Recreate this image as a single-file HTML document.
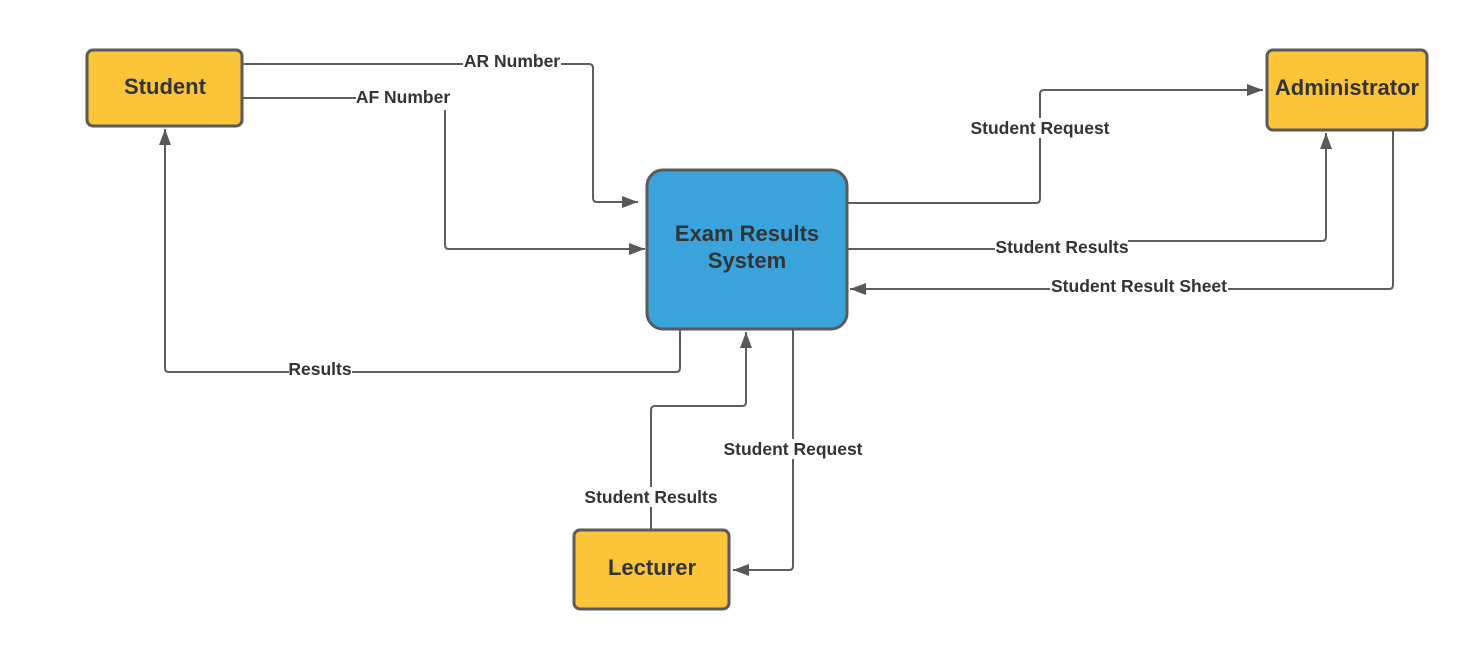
<!DOCTYPE html>
<html><head><style>
body{margin:0;background:#fff;}
svg text{font-family:"Liberation Sans",Arial,sans-serif;font-weight:bold;fill:#333;}
</style></head><body>
<svg width="1473" height="660" viewBox="0 0 1473 660" xmlns="http://www.w3.org/2000/svg">
<defs>
<marker id="b" viewBox="0 0 16 12" markerWidth="16" markerHeight="12" refX="16" refY="6" orient="auto" markerUnits="userSpaceOnUse"><path d="M0,0 L16,6 L0,12 z" fill="#595959"/></marker></defs>
<g fill="none" stroke="#5e5e5e" stroke-width="2" stroke-linejoin="round">
<path d="M242 64 H589 Q593 64 593 68 V198 Q593 202 597 202 H638" marker-end="url(#b)"/>
<path d="M242 98 H356"/>
<path d="M445 110 V245 Q445 249 449 249 H645" marker-end="url(#b)"/>
<path d="M680 330 V368 Q680 372 676 372 H169 Q165 372 165 368 V129" marker-end="url(#b)"/>
<path d="M848 203 H1036 Q1040 203 1040 199 V94 Q1040 90 1044 90 H1263" marker-end="url(#b)"/>
<path d="M848 249 H995"/>
<path d="M1128 241 H1322 Q1326 241 1326 237 V133" marker-end="url(#b)"/>
<path d="M1393 130 V285 Q1393 289 1389 289 H850" marker-end="url(#b)"/>
<path d="M651 530 V410 Q651 406 655 406 H742 Q746 406 746 402 V332" marker-end="url(#b)"/>
<path d="M793 330 V566 Q793 570 789 570 H733" marker-end="url(#b)"/>
</g>
<g stroke="#5a5a5a" stroke-width="3">
<rect x="87" y="50" width="155" height="76" rx="6" fill="#fcc438"/>
<rect x="1267" y="50" width="160" height="80" rx="6" fill="#fcc438"/>
<rect x="574" y="530" width="155" height="79" rx="6" fill="#fcc438"/>
<rect x="647" y="170" width="200" height="159" rx="16" fill="#3aa3dc"/>
</g>
<g text-anchor="middle" font-size="22">
<text x="165" y="94">Student</text>
<text x="1347" y="95">Administrator</text>
<text x="652" y="575">Lecturer</text>
<text x="747" y="241">Exam Results</text>
<text x="747" y="268">System</text>
</g>
<g text-anchor="middle" font-size="17.5">
<rect x="463" y="52" width="98" height="20" fill="#fff"/>
<text x="512" y="67">AR Number</text>
<text x="403" y="103">AF Number</text>
<rect x="289" y="360" width="63" height="20" fill="#fff"/>
<text x="320" y="375">Results</text>
<rect x="970" y="118" width="140" height="20" fill="#fff"/>
<text x="1040" y="134">Student Request</text>
<text x="1062" y="253">Student Results</text>
<rect x="1050" y="277" width="178" height="20" fill="#fff"/>
<text x="1139" y="292">Student Result Sheet</text>
<rect x="584" y="487" width="134" height="20" fill="#fff"/>
<text x="651" y="503">Student Results</text>
<rect x="722" y="439" width="142" height="20" fill="#fff"/>
<text x="793" y="455">Student Request</text>
</g>
</svg>
</body></html>
